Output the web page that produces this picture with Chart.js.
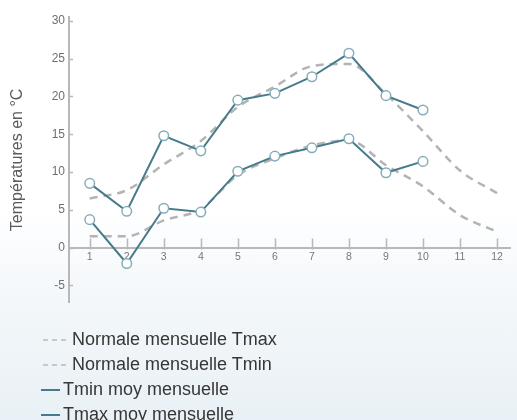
<!DOCTYPE html>
<html>
<head>
<meta charset="utf-8">
<script src="https://cdn.jsdelivr.net/npm/chart.js@4.4.1/dist/chart.umd.min.js"></script>
<style>
  html, body { margin:0; padding:0; }
  body { width:517px; height:420px; overflow:hidden; position:relative;
         background: linear-gradient(to bottom, #ffffff 0%, #ffffff 50%, #f3f7fa 72%, #e9f1f6 100%);
         font-family: "Liberation Sans", Arial, sans-serif; }
  #wrap { position:absolute; left:0; top:0; width:517px; height:314px; }
  #legend { position:absolute; left:0; top:327px; }
  .item { position:relative; height:25px; line-height:25px; font-size:18px; color:#363636; white-space:nowrap; }
  .item canvas { position:absolute; top:0; }
</style>
</head>
<body>
<div id="wrap"><canvas id="c"></canvas></div>
<div id="legend"></div>
<script>
const months = [1,2,3,4,5,6,7,8,9,10,11,12];
const monthLabels = ['1','2','3','4','5','6','7','8','9','10','11','12'];
const yTickValues = [-5,0,5,10,15,20,25,30];
const normaleTmax = [6.5, 7.6, 11.0, 14.1, 18.6, 21.3, 24.0, 24.3, 20.3, 15.4, 10.2, 7.2];
const normaleTmin = [1.5, 1.5, 3.6, 5.1, 9.6, 11.8, 13.5, 14.2, 10.9, 8.1, 4.3, 2.1];
const tminMoy = [3.7, -2.1, 5.2, 4.7, 10.1, 12.1, 13.2, 14.4, 9.9, 11.4];
const tmaxMoy = [8.5, 4.8, 14.8, 12.8, 19.5, 20.4, 22.6, 25.7, 20.1, 18.2];

const dashColor = '#b4b4b4';
const solidColor = '#467b8c';

function pts(arr){ return arr.map((v,i)=>({x: months[i], y: v})); }

const datasets = [
  { label:'Normale mensuelle Tmax', data: pts(normaleTmax), borderColor: dashColor, borderWidth:2.5,
    borderDash:[8,6], pointRadius:0, cubicInterpolationMode:'monotone', order:2, legendDash:true },
  { label:'Normale mensuelle Tmin', data: pts(normaleTmin), borderColor: dashColor, borderWidth:2.5,
    borderDash:[8,6], pointRadius:0, cubicInterpolationMode:'monotone', order:2, legendDash:true },
  { label:'Tmin moy mensuelle', data: pts(tminMoy), borderColor: solidColor, borderWidth:2,
    pointRadius:4.8, pointBackgroundColor:'#ffffff', pointBorderColor:'#86adbb', pointBorderWidth:1.5,
    tension:0, order:1 },
  { label:'Tmax moy mensuelle', data: pts(tmaxMoy), borderColor: solidColor, borderWidth:2,
    pointRadius:4.8, pointBackgroundColor:'#ffffff', pointBorderColor:'#86adbb', pointBorderWidth:1.5,
    tension:0, order:1 }
];

const innerTicks = {
  id:'innerTicks',
  beforeDatasetsDraw(chart){
    const ctx = chart.ctx, xs = chart.scales.x, ys = chart.scales.y;
    const y0 = ys.getPixelForValue(0);
    const x0 = chart.chartArea.left;
    ctx.save();
    ctx.strokeStyle = '#b8b8b8';
    ctx.lineWidth = 1.5;
    ctx.beginPath();
    months.forEach(m => { const px = Math.round(xs.getPixelForValue(m)) + 0.5; ctx.moveTo(px, y0 - 9); ctx.lineTo(px, y0 + 2); });
    yTickValues.forEach(v => { const py = Math.round(ys.getPixelForValue(v)) + 0.5; ctx.moveTo(x0, py); ctx.lineTo(x0 + 4, py); });
    ctx.stroke();
    ctx.restore();
  }
};

new Chart(document.getElementById('c'), {
  type:'line',
  data:{ datasets },
  options:{
    responsive:true, maintainAspectRatio:false, animation:false,
    layout:{ padding:{ top:17, bottom:0, left:0, right:0 } },
    plugins:{ legend:{ display:false }, tooltip:{ enabled:false } },
    scales:{
      x:{ type:'linear', position:{ y:0 }, min:0.44, max:12.37,
          afterBuildTicks(s){ s.ticks = months.map(v=>({value:v})); },
          afterFit(s){ s.height = 0; },
          grid:{ display:true, drawOnChartArea:false, drawTicks:false },
          border:{ display:true, color:'#b8b8b8', width:2 },
          ticks:{ autoSkip:false, maxRotation:0, padding:3, color:'#777',
                  font:{ family:'Liberation Sans', size:10.5 },
                  callback:(v)=> monthLabels[months.indexOf(v)] ?? '' } },
      y:{ type:'linear', min:-7.3, max:30.5,
          afterBuildTicks(s){ s.ticks = yTickValues.map(v=>({value:v})); },
          afterFit(s){ s.width = 69; },
          grid:{ display:true, drawOnChartArea:false, drawTicks:false },
          border:{ display:true, color:'#b8b8b8', width:2 },
          ticks:{ padding:4, color:'#707070', font:{ family:'Liberation Sans', size:12 } },
          title:{ display:true, text:'Températures en °C', color:'#5a5a5a',
                  font:{ family:'Liberation Sans', size:16 }, padding:{ top:8, bottom:0 } } }
    }
  },
  plugins:[innerTicks]
});

// HTML legend built from datasets
const leg = document.getElementById('legend');
datasets.forEach(ds => {
  const d = document.createElement('div');
  d.className = 'item';
  const c = document.createElement('canvas');
  c.width = 30; c.height = 25;
  const dash = !!ds.legendDash;
  c.style.left = (dash ? 43 : 41) + 'px';
  const g = c.getContext('2d');
  g.strokeStyle = dash ? '#c8c8c8' : solidColor;
  g.lineWidth = 2;
  if (dash) g.setLineDash([5,4]);
  g.beginPath(); g.moveTo(0, 13); g.lineTo(dash ? 26 : 19, 13); g.stroke();
  d.appendChild(c);
  const t = document.createElement('span');
  t.textContent = ds.label;
  t.style.position = 'absolute';
  t.style.left = (dash ? 72 : 63) + 'px';
  d.appendChild(t);
  leg.appendChild(d);
});
</script>
</body>
</html>
